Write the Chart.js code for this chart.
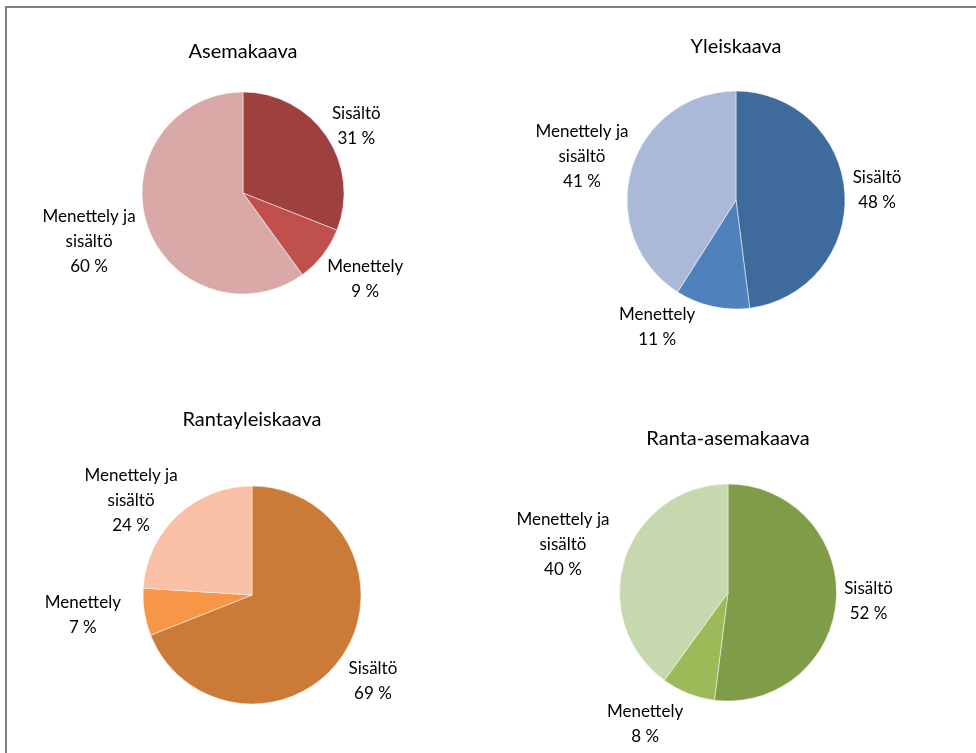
<!DOCTYPE html>
<html>
<head>
<meta charset="utf-8">
<script src="https://cdn.jsdelivr.net/npm/chart.js@4.4.1/dist/chart.umd.min.js"></script>
<style>
  body { margin: 0; background: #fff; }
  #wrap { position: relative; width: 976px; height: 753px; overflow: hidden; }
  #wrap canvas { position: absolute; left: 0; top: 0; }
  #frame { position: absolute; left: 5px; top: 6px; width: 1000px; height: 800px;
           border-left: 2px solid #7f7f7f; border-top: 2px solid #7f7f7f; }
</style>
</head>
<body>
<div id="wrap">
  <div id="frame"></div>
  <canvas id="c1" width="976" height="753"></canvas>
  <canvas id="c2" width="976" height="753"></canvas>
  <canvas id="c3" width="976" height="753"></canvas>
  <canvas id="c4" width="976" height="753"></canvas>
</div>
<script>
/* DATOS */
const categories = ["Sisältö", "Menettely", "Menettely ja sisältö"];
const chartTitles = ["Asemakaava", "Yleiskaava", "Rantayleiskaava", "Ranta-asemakaava"];
const asemakaava = [31, 9, 60];
const yleiskaava = [48, 11, 41];
const rantayleiskaava = [69, 7, 24];
const rantaAsemakaava = [52, 8, 40];

/* COLORES */
const redColors = ["#9E403E", "#C0504D", "#D9A9A8"];
const blueColors = ["#3F6A9C", "#4F81BD", "#AAB9D7"];
const orangeColors = ["#CC7A38", "#F79646", "#F9C0A5"];
const greenColors = ["#7F9C48", "#9BBB59", "#C7D7AE"];

const W = 976, H = 753;
const BW = 0.5;
const fontFamily = "Lato, 'Open Sans', sans-serif";

/* PLUGIN PARA LAS ETIQUETAS FUERA DEL PASTEL */
const outLabels = {
  id: "outLabels",
  afterDatasetsDraw(chart, args, opts) {
    const ctx = chart.ctx;
    const meta = chart.getDatasetMeta(0);
    const values = chart.data.datasets[0].data;
    ctx.save();
    ctx.font = "17px " + fontFamily;
    ctx.fillStyle = "#000";
    ctx.textAlign = "center";
    ctx.textBaseline = "middle";
    const lh = 25;
    meta.data.forEach((arc, i) => {
      const p = arc.getProps(["x", "y", "startAngle", "endAngle", "outerRadius"], true);
      const mid = (p.startAngle + p.endAngle) / 2;
      const cos = Math.cos(mid), sin = Math.sin(mid);
      let name = chart.data.labels[i];
      let lines = [];
      if (name.length > 12) {
        const cut = name.lastIndexOf(" ");
        lines.push(name.slice(0, cut), name.slice(cut + 1));
      } else {
        lines.push(name);
      }
      lines.push(values[i] + " %");
      const w = Math.max(...lines.map(l => ctx.measureText(l).width));
      const h = lines.length * lh;
      const ax = p.x + (p.outerRadius + 8) * cos;
      const ay = p.y + (p.outerRadius + 8) * sin;
      const nudge = (opts.nudge && opts.nudge[i]) || [0, 0];
      const cx = ax + cos * w / 2 + nudge[0];
      const cy = ay + sin * h / 2 + nudge[1];
      lines.forEach((l, k) => {
        ctx.fillText(l, cx, cy - h / 2 + lh / 2 + k * lh);
      });
    });
    ctx.restore();
  }
};

/* CONFIGURACION DE CADA GRAFICO */
function configPie(title, values, colors, cx, cy, r, titleY, nudge) {
  const R = r + BW / 2;
  const titleTop = titleY - 12;
  return {
    type: "pie",
    data: {
      labels: categories,
      datasets: [{
        data: values,
        backgroundColor: colors,
        borderColor: "#ffffff",
        borderWidth: BW
      }]
    },
    options: {
      responsive: false,
      animation: false,
      events: [],
      layout: {
        padding: {
          left: cx - R,
          right: W - (cx + R),
          top: 0,
          bottom: H - (cy + R)
        }
      },
      plugins: {
        legend: { display: false },
        tooltip: { enabled: false },
        title: {
          display: true,
          text: title,
          color: "#000",
          font: { family: fontFamily, size: 20, weight: "normal" },
          padding: { top: titleTop, bottom: (cy - R) - titleTop - 24 }
        },
        outLabels: { nudge: nudge }
      }
    },
    plugins: [outLabels]
  };
}

new Chart(document.getElementById("c1"),
  configPie(chartTitles[0], asemakaava, redColors, 243, 193, 101, 52,
    [[3, 8], [6, 4], [-6, 3]]));
new Chart(document.getElementById("c2"),
  configPie(chartTitles[1], yleiskaava, blueColors, 736, 200, 109, 47,
    [[0, -1], [-45, -12], [3, 0]]));
new Chart(document.getElementById("c3"),
  configPie(chartTitles[2], rantayleiskaava, orangeColors, 252, 595, 109, 420,
    [[4, 6], [-16, -2], [-9, 18]]));
new Chart(document.getElementById("c4"),
  configPie(chartTitles[3], rantaAsemakaava, greenColors, 728, 592.5, 108.5, 439,
    [[0, 0], [-26, 0], [-10, 0]]));
</script>
</body>
</html>
